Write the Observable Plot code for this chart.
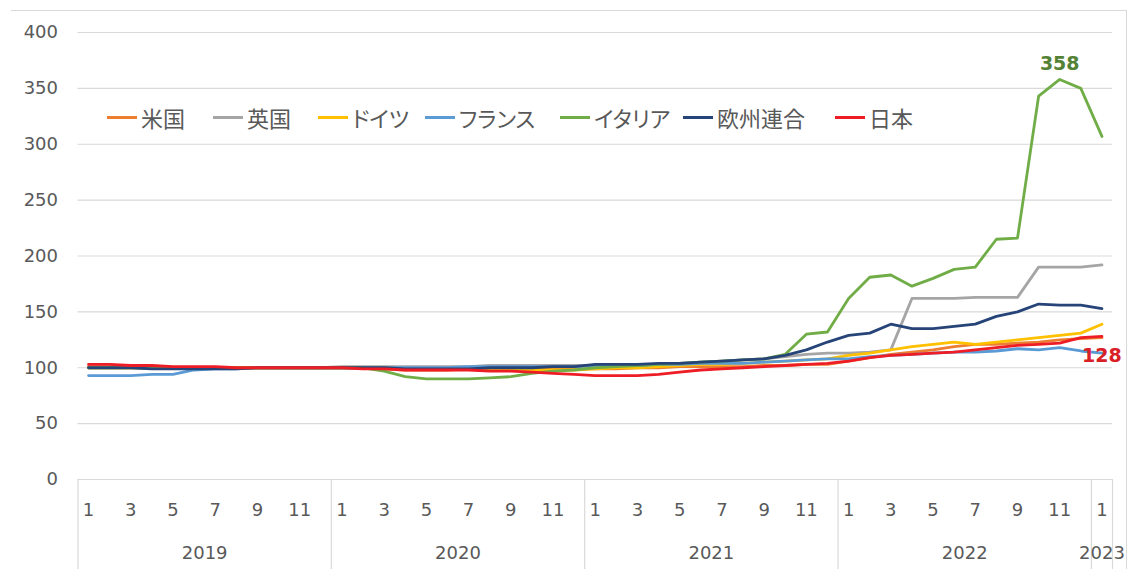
<!DOCTYPE html>
<html><head><meta charset="utf-8">
<script src="https://cdn.jsdelivr.net/npm/d3@7"></script>
<script src="https://cdn.jsdelivr.net/npm/@observablehq/plot@0.6"></script>
<style>
html,body{margin:0;padding:0;background:#fff;}
#wrap{position:relative;width:1131px;height:569px;overflow:hidden;}
#frame{position:absolute;left:11px;top:10px;width:1116px;height:620px;border-top:1px solid #d9d9d9;border-right:1px solid #d9d9d9;box-sizing:border-box;}
#legend{position:absolute;top:0;left:0;font-family:"Noto Sans CJK JP","Noto Sans",sans-serif;font-size:22px;color:#595959;font-feature-settings:"palt";}
.item{position:absolute;top:104px;white-space:nowrap;display:flex;align-items:center;height:26px;}
.sw{display:inline-block;width:30px;height:3px;margin-right:4px;}
svg{position:absolute;left:0;top:0;}
</style></head>
<body><div id="wrap"><div id="frame"></div><div id="chart"></div><div id="legend"></div></div>
<script>
const seriesNames = ["米国","英国","ドイツ","フランス","イタリア","欧州連合","日本"];
const seriesColors = ["#ED7D31","#A5A5A5","#FFC000","#5B9BD5","#70AD47","#264478","#EE1C25"];
const legendLeft = [107,213,318,425,560,683,835];

const monthLabels = ["1","3","5","7","9","11"];
const years = ["2019","2020","2021","2022","2023"];
const yTicks = [0,50,100,150,200,250,300,350,400];

// monthly index values, 2019-01 .. 2023-01 (49 months)
const us = [101,101,101,101,100,100,100,100,100,100,100,100,
            100,100,99,98,98,98,99,99,99,99,99,99,
            99,99,100,100,101,101,101,101,102,102,103,103,
            106,109,112,114,116,119,121,121,122,123,125,126,
            127];
const uk = [100,100,100,100,100,100,100,100,100,100,100,100,
            101,101,101,101,101,101,101,102,102,102,102,102,
            102,102,103,103,104,105,106,107,108,110,112,113,
            113,114,116,162,162,162,163,163,163,190,190,190,
            192];
const de = [100,100,100,100,100,100,100,100,100,100,100,100,
            100,100,100,99,99,99,99,99,98,98,98,98,
            99,100,100,101,102,103,103,104,105,106,107,108,
            111,113,116,119,121,123,121,123,125,127,129,131,
            139];
const fr = [93,93,93,94,94,98,99,99,100,100,100,100,
            100,100,100,100,100,100,101,101,101,101,101,101,
            102,102,102,103,103,104,104,104,105,106,107,108,
            108,110,111,112,113,114,114,115,117,116,118,115,
            113];
const it = [100,100,100,100,100,100,100,100,100,100,100,100,
            100,100,97,92,90,90,90,91,92,95,97,98,
            100,101,102,103,104,105,106,107,108,112,130,132,
            162,181,183,173,180,188,190,215,216,343,358,350,
            307];
const eu = [100,100,100,99,99,99,99,99,100,100,100,100,
            100,100,100,99,99,99,99,100,100,100,101,101,
            103,103,103,104,104,105,106,107,108,111,116,123,
            129,131,139,135,135,137,139,146,150,157,156,156,
            153];
const jp = [103,103,102,102,101,101,101,100,100,100,100,100,
            100,99,99,98,98,98,98,97,97,96,95,94,
            93,93,93,94,96,98,99,100,101,102,103,104,
            106,109,111,112,113,114,116,118,120,121,122,127,
            128];

const allSeries = [us,uk,de,fr,it,eu,jp];
const peakLabel = [{i:46, v:358, t:"358"}];
const endLabel = [{i:48, v:128, t:"128"}];

const monthTicks = [];
for (let y = 0; y < 4; y++) monthLabels.forEach((m,k)=>monthTicks.push({i:y*12+k*2, t:m}));
monthTicks.push({i:48, t:"1"});
const yearTicks = years.map((y,k)=>({i: k<4 ? k*12+5.5 : 48, t:y}));
const seps = [-0.5, 11.5, 23.5, 35.5, 47.5, 48.5];

const lineMarks = allSeries.map((vals, s) =>
  Plot.line(vals.map((v,i)=>({i, v})), {x:"i", y:"v", stroke: seriesColors[s], strokeWidth: 2.8, curve:"linear"}));

const chart = Plot.plot({
  width: 1131, height: 569,
  marginLeft: 77.5, marginRight: 19, marginTop: 32, marginBottom: 90,
  style: {fontFamily: "'DejaVu Sans', Verdana, sans-serif", fontSize: "18px", color: "#595959", background: "transparent"},
  x: {type: "linear", domain: [-0.5, 48.5], axis: null},
  y: {domain: [0, 400], axis: null},
  marks: [
    Plot.gridY(yTicks, {stroke: "#d9d9d9", strokeOpacity: 1, strokeWidth: 1.2}),
    Plot.ruleX(seps, {y1: 0, y2: -82, stroke: "#d9d9d9", strokeWidth: 1.2}),
    Plot.axisY(yTicks, {tickSize: 0, tickPadding: 20, fontSize: 18, fill: "#595959", label: null}),
    Plot.text(monthTicks, {x: "i", text: "t", frameAnchor: "bottom", dy: 36, fontSize: 18, fill: "#595959"}),
    Plot.text(yearTicks, {x: "i", text: "t", frameAnchor: "bottom", dy: 79, fontSize: 18, fill: "#595959"}),
    ...lineMarks,
    Plot.text(peakLabel, {x: "i", y: "v", text: "t", dy: -16, fontSize: 19, fontWeight: "bold", fill: "#548235"}),
    Plot.text(endLabel, {x: "i", y: "v", text: "t", dy: 19, fontSize: 19, fontWeight: "bold", fill: "#D92027"})
  ]
});
document.getElementById("chart").appendChild(chart);

const lg = document.getElementById("legend");
seriesNames.forEach((n, s) => {
  const d = document.createElement("div");
  d.className = "item";
  d.style.left = legendLeft[s] + "px";
  d.innerHTML = `<span class="sw" style="background:${seriesColors[s]}"></span><span>${n}</span>`;
  lg.appendChild(d);
});
</script></body></html>
